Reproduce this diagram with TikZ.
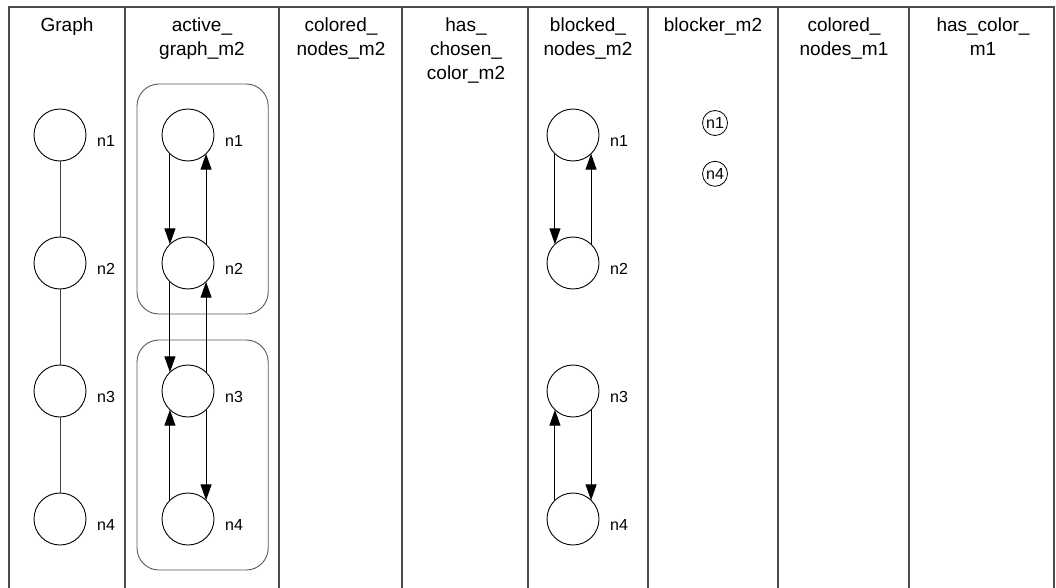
\documentclass[tikz,border=0pt]{standalone}
\usepackage{fontspec}
\setmainfont{Liberation Sans}
\usetikzlibrary{arrows.meta, positioning, fit}

\begin{document}
\begin{tikzpicture}[x=1pt, y=-1pt,
  vtx/.style={draw, circle, minimum size=52pt, inner sep=0pt, outer sep=0pt, line width=0.9pt},
  tag/.style={draw, circle, minimum size=25pt, inner sep=0pt, line width=0.8pt, font=\fontsize{16}{18}\selectfont},
  head/.style={anchor=north, align=center, inner sep=0pt, font=\fontsize{19}{24}\selectfont},
  grp/.style={draw=black!65, rounded corners=22pt, inner sep=25pt, line width=0.9pt},
  frame/.style={draw=black!70, line width=1.3pt},
  every label/.style={font=\fontsize{16}{18}\selectfont, inner sep=0pt, yshift=-6pt},
  label distance=11pt,
  >={Triangle[length=16pt, width=11pt]}]
\useasboundingbox (0,0) rectangle (1056,588);
% columns
\draw[frame] (9,588) -- (9,7) -- (1054,7) -- (1054,588);
\foreach \x in {125,279,402,528,648,778,909}
  \draw[frame] (\x,7) -- (\x,588);
\node[head] (hGraph) at (67,18) {Graph};
\node[head] (hActive) at (202,18) {active\_\\graph\_m2};
\node[head] (hColored2) at (341,18) {colored\_\\nodes\_m2};
\node[head] (hChosen) at (466,18) {has\_\\chosen\_\\color\_m2};
\node[head] (hBlocked) at (588,18) {blocked\_\\nodes\_m2};
\node[head] (hBlocker) at (713,18) {blocker\_m2};
\node[head] (hColored1) at (844,18) {colored\_\\nodes\_m1};
\node[head] (hHasColor) at (983,18) {has\_color\_\\m1};
% Graph
\node[vtx, label=right:n1] (g1) at (60,135) {};
\node[vtx, label=right:n2, below=76pt of g1] (g2) {};
\node[vtx, label=right:n3, below=76pt of g2] (g3) {};
\node[vtx, label=right:n4, below=76pt of g3] (g4) {};
\draw[black!75, line width=0.8pt] (g1) -- (g2) -- (g3) -- (g4);
% active_graph_m2
\node[vtx, label={[name=a1l]right:n1}] (a1) at (188,135) {};
\node[vtx, label={[name=a2l]right:n2}, below=76pt of a1] (a2) {};
\node[vtx, label={[name=a3l]right:n3}, below=76pt of a2] (a3) {};
\node[vtx, label={[name=a4l]right:n4}, below=76pt of a3] (a4) {};
\node[grp, fit=(a1)(a1l)(a2)(a2l)] (box12) {};
\node[grp, fit=(a3)(a3l)(a4)(a4l)] (box34) {};
\draw[->, line width=1.1pt] (a1.226) -- (a2.134);
\draw[->, line width=1.1pt] (a2.46) -- (a1.314);
\draw[->, line width=1.1pt] (a2.226) -- (a3.134);
\draw[->, line width=1.1pt] (a3.46) -- (a2.314);
\draw[->, line width=1.1pt] (a4.134) -- (a3.226);
\draw[->, line width=1.1pt] (a3.314) -- (a4.46);
% blocked_nodes_m2
\node[vtx, label=right:n1] (b1) at (573,135) {};
\node[vtx, label=right:n2, below=76pt of b1] (b2) {};
\node[vtx, label=right:n3, below=76pt of b2] (b3) {};
\node[vtx, label=right:n4, below=76pt of b3] (b4) {};
\draw[->, line width=1.1pt] (b1.226) -- (b2.134);
\draw[->, line width=1.1pt] (b2.46) -- (b1.314);
\draw[->, line width=1.1pt] (b4.134) -- (b3.226);
\draw[->, line width=1.1pt] (b3.314) -- (b4.46);
% blocker_m2
\node[tag] (k1) at (715,123) {n1};
\node[tag, below=25pt of k1] (k4) {n4};
\end{tikzpicture}
\end{document}
